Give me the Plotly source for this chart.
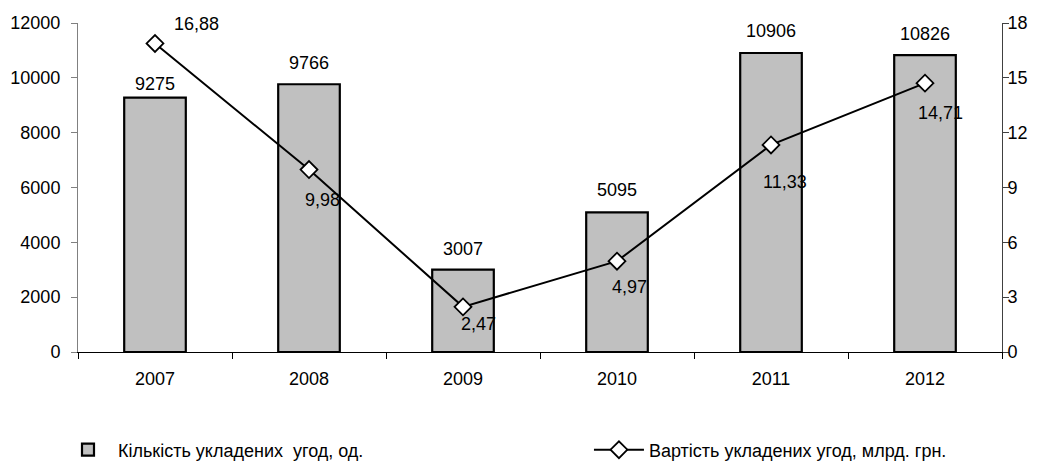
import plotly.graph_objects as go

years = ["2007", "2008", "2009", "2010", "2011", "2012"]
deals_count = [9275, 9766, 3007, 5095, 10906, 10826]
deals_value = [16.88, 9.98, 2.47, 4.97, 11.33, 14.71]
value_labels = ["16,88", "9,98", "2,47", "4,97", "11,33", "14,71"]
left_ticks = [0, 2000, 4000, 6000, 8000, 10000, 12000]
right_ticks = [0, 3, 6, 9, 12, 15, 18]

name_count = "Кількість укладених\u00a0 угод, од."
name_value = "Вартість укладених угод, млрд. грн."

# label placement (style only)
count_label_shift = [14, 21, 21, 22, 22, 21]
value_label_shift = [(41, 19), (13, -30), (15, -17), (12, -26), (14, -37), (15, -30)]

FONT = "Liberation Sans, Arial, sans-serif"
FS = 18

fig = go.Figure()
fig.add_trace(go.Bar(
    x=years, y=deals_count, name=name_count,
    marker=dict(color="#C0C0C0", line=dict(color="black", width=2.2)),
    width=0.4, legend="legend", yaxis="y",
))
fig.add_trace(go.Scatter(
    x=years, y=deals_value, name=name_value, yaxis="y2",
    mode="lines+markers",
    line=dict(color="black", width=2),
    marker=dict(symbol="diamond", size=13, color="white",
                line=dict(color="black", width=1.8)),
    legend="legend2",
))

annotations = []
# on a category axis, annotation x is the category's serial number
for i, (v, s) in enumerate(zip(deals_count, count_label_shift)):
    annotations.append(dict(x=i, y=v, xref="x", yref="y", text=str(v),
                            showarrow=False, yanchor="middle", yshift=s,
                            font=dict(family=FONT, size=FS, color="black")))
for i, (v, t, (dx, dy)) in enumerate(zip(deals_value, value_labels, value_label_shift)):
    annotations.append(dict(x=i, y=v, xref="x", yref="y2", text=t,
                            showarrow=False, yanchor="middle", xanchor="center",
                            xshift=dx, yshift=dy,
                            font=dict(family=FONT, size=FS, color="black")))

# the page body adds an 8px offset, so the figure is 8px smaller
W, H = 1033, 453

fig.update_layout(
    width=W, height=H,
    margin=dict(l=70, r=39, t=15, b=109, autoexpand=False),
    paper_bgcolor="white", plot_bgcolor="white",
    font=dict(family=FONT, size=FS, color="black"),
    bargap=0.6,
    xaxis=dict(type="category", categoryorder="array", categoryarray=years,
               range=[-0.5, len(years) - 0.5], automargin=False,
               showgrid=False, showline=True, linecolor="black",
               linewidth=1, ticks="outside", ticklen=6, tickcolor="black",
               tickson="boundaries", ticklabelstandoff=10, zeroline=False,
               tickangle=0),
    yaxis=dict(range=[0, 12000], tickvals=left_ticks, automargin=False,
               ticktext=[str(v) for v in left_ticks], showgrid=False,
               showline=True, linecolor="#808080", linewidth=1,
               ticks="outside", ticklen=6, tickcolor="#808080",
               ticklabelstandoff=7, zeroline=False),
    yaxis2=dict(range=[0, 18], tickvals=right_ticks, overlaying="y", side="right",
                automargin=False,
                showgrid=False, showline=True, linecolor="#404040", linewidth=1,
                ticks="outside", ticklen=6, tickcolor="#404040",
                ticklabelstandoff=-5, zeroline=False),
    legend=dict(orientation="h", xref="container", yref="container",
                x=0.0484, xanchor="left", y=0.0243, yanchor="middle",
                itemwidth=50, bgcolor="rgba(0,0,0,0)", font=dict(family=FONT, size=FS)),
    legend2=dict(orientation="h", xref="container", yref="container",
                 x=0.5624, xanchor="left", y=0.0243, yanchor="middle",
                 itemwidth=50, bgcolor="rgba(0,0,0,0)", font=dict(family=FONT, size=FS)),
    annotations=annotations,
    showlegend=True,
)

fig.write_html("out.html")
